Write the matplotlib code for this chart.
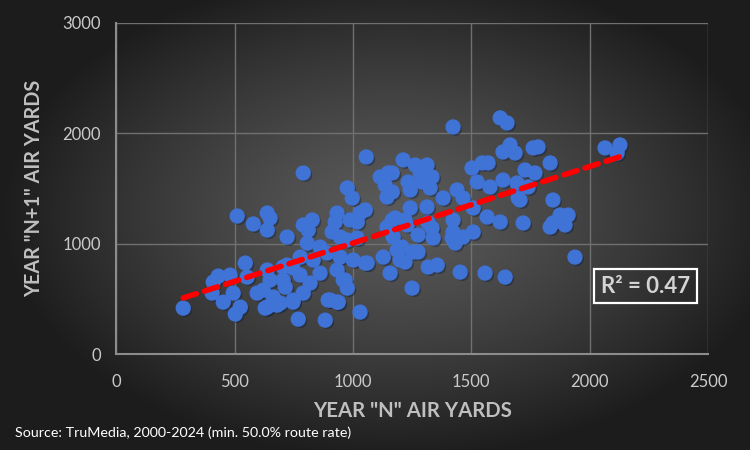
import numpy as np
import matplotlib
matplotlib.use("Agg")
import matplotlib.pyplot as plt
import matplotlib.patheffects as pe

# year N air yards vs year N+1 air yards
year_n = [283, 410, 405, 452, 494, 481, 524, 503, 545, 553, 595, 629, 680, 714, 722,
          747, 769, 883, 895, 933, 967, 1030, 1052, 722, 638, 579, 511, 638, 650, 790,
          976, 997, 1115, 1149, 1136, 1144, 790, 828, 811, 933, 925, 912, 988, 1030, 1052,
          1018, 807, 861, 946, 976, 1018, 1166, 1144, 1170, 1128, 1187, 1157, 777, 832, 891,
          946, 1001, 1060, 747, 705, 638, 650, 705, 777, 819, 861, 933, 959, 976, 621,
          663, 693, 747, 790, 638, 904, 938, 1423, 1622, 1651, 1664, 1634, 1685, 1212, 1263,
          1313, 1166, 1284, 1334, 1233, 1242, 1292, 1326, 1503, 1546, 1571, 1525, 1579, 1634, 1166,
          1381, 1440, 1465, 1508, 1313, 1242, 1220, 1178, 1318, 1334, 1423, 1567, 1622, 1698, 1275,
          1339, 1423, 1465, 1508, 1432, 1208, 1254, 1199, 1318, 1356, 1453, 1558, 1643, 1250, 1229,
          1761, 1782, 1833, 2065, 2128, 2116, 1727, 1769, 1693, 1740, 1706, 1845, 1719, 1845, 1875,
          1909, 1896, 1833, 1938, 1220, 1275, 1419, 1056, 431]
year_n1 = [417, 653, 553, 471, 553, 716, 426, 363, 825, 698, 553, 417, 444, 607, 807,
           471, 317, 308, 490, 471, 671, 381, 825, 1061, 1124, 1179, 1251, 1278, 1233, 1641,
           1505, 1414, 1605, 1641, 1532, 1423, 1170, 1215, 1124, 1278, 1197, 1106, 1215, 1278, 1306,
           1197, 1006, 970, 1061, 1034, 1052, 1215, 1151, 1061, 879, 943, 734, 879, 852, 916,
           879, 852, 825, 780, 789, 762, 671, 671, 716, 644, 734, 762, 671, 598, 580,
           517, 462, 490, 553, 426, 490, 471, 2058, 2140, 2094, 1895, 1831, 1822, 1759, 1713,
           1713, 1641, 1641, 1605, 1559, 1487, 1559, 1505, 1686, 1732, 1732, 1559, 1514, 1577, 1469,
           1414, 1487, 1414, 1324, 1333, 1324, 1215, 1233, 1188, 1142, 1215, 1242, 1197, 1414, 1079,
           1052, 1106, 1061, 1106, 1006, 970, 925, 852, 789, 807, 743, 734, 698, 598, 1170,
           1868, 1877, 1732, 1868, 1895, 1822, 1668, 1641, 1550, 1514, 1396, 1396, 1188, 1188, 1260,
           1260, 1170, 1151, 879, 834, 925, 1052, 1786, 707]

x_ticks = [0, 500, 1000, 1500, 2000, 2500]
y_ticks = [0, 1000, 2000, 3000]
r2_label = "R² = 0.47"
source_note = "Source: TruMedia, 2000-2024 (min. 50.0% route rate)"

plt.rcParams['font.family'] = ['Lato', 'DejaVu Sans']

fig = plt.figure(figsize=(7.5, 4.5), dpi=100)

# radial grey background like the excel chart area
bg = fig.add_axes([0, 0, 1, 1])
gx, gy = np.meshgrid(np.linspace(-1, 1, 750), np.linspace(-1, 1, 450))
dist = np.sqrt(((gx - 0.05) / 1.05) ** 2 + ((gy + 0.05) / 1.1) ** 2)
dist = np.clip(dist, 0, 1)
lo, hi = 0x1c / 255, 0x5a / 255
shade = hi + (lo - hi) * dist ** 1.3
bg.imshow(np.dstack([shade, shade, shade]), aspect='auto', extent=[0, 1, 0, 1])
bg.set_axis_off()

ax = fig.add_axes([0.155, 0.213, 0.789, 0.736])
ax.patch.set_alpha(0)
ax.set_xlim(0, 2500)
ax.set_ylim(0, 3000)
ax.set_xticks(x_ticks)
ax.set_yticks(y_ticks)
ax.grid(True, color='#707070', lw=1)
ax.set_axisbelow(True)
for side in ['top', 'right']:
    ax.spines[side].set_visible(False)
for side in ['left', 'bottom']:
    ax.spines[side].set_color('#8c8c8c')
    ax.spines[side].set_linewidth(1.5)
ax.tick_params(length=0, labelsize=12, colors='#cacaca')
ax.tick_params(axis='x', pad=14)
ax.tick_params(axis='y', pad=11)

ax.scatter(year_n, year_n1, s=100, color='#3f73d6', zorder=3,
           path_effects=[pe.SimplePatchShadow(offset=(1.5, -1.5), alpha=0.45), pe.Normal()])

# linear trend line
slope, icpt = np.polyfit(year_n, year_n1, 1)
tx = np.array([min(year_n), max(year_n)])
ax.plot(tx, slope * tx + icpt, color='#ff0000', lw=4, dashes=(2.5, 1.5),
        dash_capstyle='round', zorder=4)

ax.text(0.894, 0.205, r2_label, transform=ax.transAxes, ha='center', va='center',
        fontsize=16, fontweight='bold', color='#d4d4d4',
        bbox=dict(boxstyle='square,pad=0.3', fc='none', ec='white', lw=1.6))

ax.set_xlabel('YEAR "N" AIR YARDS', fontsize=14.7, fontweight='bold', color='#bfbfbf', labelpad=8)
ax.set_ylabel('YEAR "N+1" AIR YARDS', fontsize=14.3, fontweight='bold', color='#bfbfbf', labelpad=13)

fig.text(0.02, 0.038, source_note, fontsize=10.3, color='white', ha='left', va='center')

fig.savefig('out.png', dpi=100)
